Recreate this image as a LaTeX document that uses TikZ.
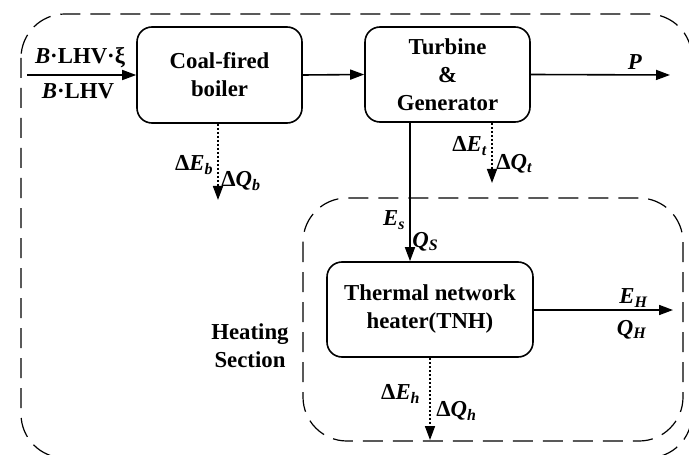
\documentclass[tikz,border=0pt]{standalone}
\usepackage{fontspec}
\setmainfont{Liberation Serif}
\usetikzlibrary{arrows.meta}
\begin{document}
\begin{tikzpicture}[x=0.5pt, y=-0.5pt, font=\fontsize{11.4}{14}\selectfont\bfseries,
  unit/.style={draw, line width=0.8pt, rounded corners=7.5pt, align=center, inner sep=0pt},
  flow/.style={line width=0.8pt, -{Triangle[length=7pt, width=5pt]}},
  loss/.style={flow, dash pattern=on 1pt off 1pt},
  zone/.style={line width=0.6pt, dash pattern=on 10pt off 5pt, rounded corners=22pt},
  lbl/.style={inner sep=0pt}]
\useasboundingbox (0,0) rectangle (689,454);
\clip (0,0) rectangle (689,454);
% system boundaries
\draw[zone] (21,14) rectangle (692,458);
\draw[zone] (303,198) rectangle (683,441);
% units
\node[unit, minimum width=82.5pt, minimum height=48pt] (boiler) at (219.5,75) {Coal-fired\\boiler};
\node[unit, minimum width=82.5pt, minimum height=47.5pt] (turbine) at (447.5,74.5) {Turbine\\\&\\Generator};
\node[unit, minimum width=103pt, minimum height=47.5pt] (tnh) at (430,309.5) {Thermal network\\heater(TNH)};
\node[lbl, align=center] (heat) at (250,346) {Heating\\Section};
% flow ends
\coordinate (fuel) at (27,75);
\coordinate (power) at (670,75);
\coordinate (hout) at (673,310);
\coordinate (steam) at (410,200);
\coordinate (lb) at (218,200);
\coordinate (lt) at (492,183);
\coordinate (lh) at (430,440);
% flows
\draw[flow] (fuel) -- (boiler.west);
\draw[flow] (boiler.east) -- (turbine.west);
\draw[flow] (turbine.east) -- (power);
\draw[flow] (turbine.south -| steam) -- (tnh.north -| steam);
\draw[flow] (tnh.east |- hout) -- (hout);
\draw[loss] (boiler.south -| lb) -- (lb);
\draw[loss] (turbine.south -| lt) -- (lt);
\draw[loss] (tnh.south -| lh) -- (lh);
% labels
\node[lbl] (bx) at (80,58) {\textit{B}·LHV·ξ};
\node[lbl] (bl) at (78,91) {\textit{B}·LHV};
\node[lbl] (p) at (635,62) {\textit{P}};
\node[lbl, anchor=east] (eb) at (214,165) {Δ\textit{E}\textsubscript{\textit{b}}};
\node[lbl, anchor=west] (qb) at (221,181) {Δ\textit{Q}\textsubscript{\textit{b}}};
\node[lbl, anchor=east] (et) at (488,146) {Δ\textit{E}\textsubscript{\textit{t}}};
\node[lbl, anchor=west] (qt) at (496,164) {Δ\textit{Q}\textsubscript{\textit{t}}};
\node[lbl, anchor=east] (es) at (406,220) {\textit{E}\textsubscript{\textit{s}}};
\node[lbl, anchor=west] (qs) at (412,242) {\textit{Q}\textsubscript{\textit{S}}};
\node[lbl] (eh) at (634,298) {\textit{E}\textsubscript{\textit{H}}};
\node[lbl] (qh) at (632,330) {\textit{Q}\textsubscript{\textit{H}}};
\node[lbl, anchor=east] (ehl) at (421,394) {Δ\textit{E}\textsubscript{\textit{h}}};
\node[lbl, anchor=west] (qhl) at (436,411) {Δ\textit{Q}\textsubscript{\textit{h}}};
\end{tikzpicture}
\end{document}
